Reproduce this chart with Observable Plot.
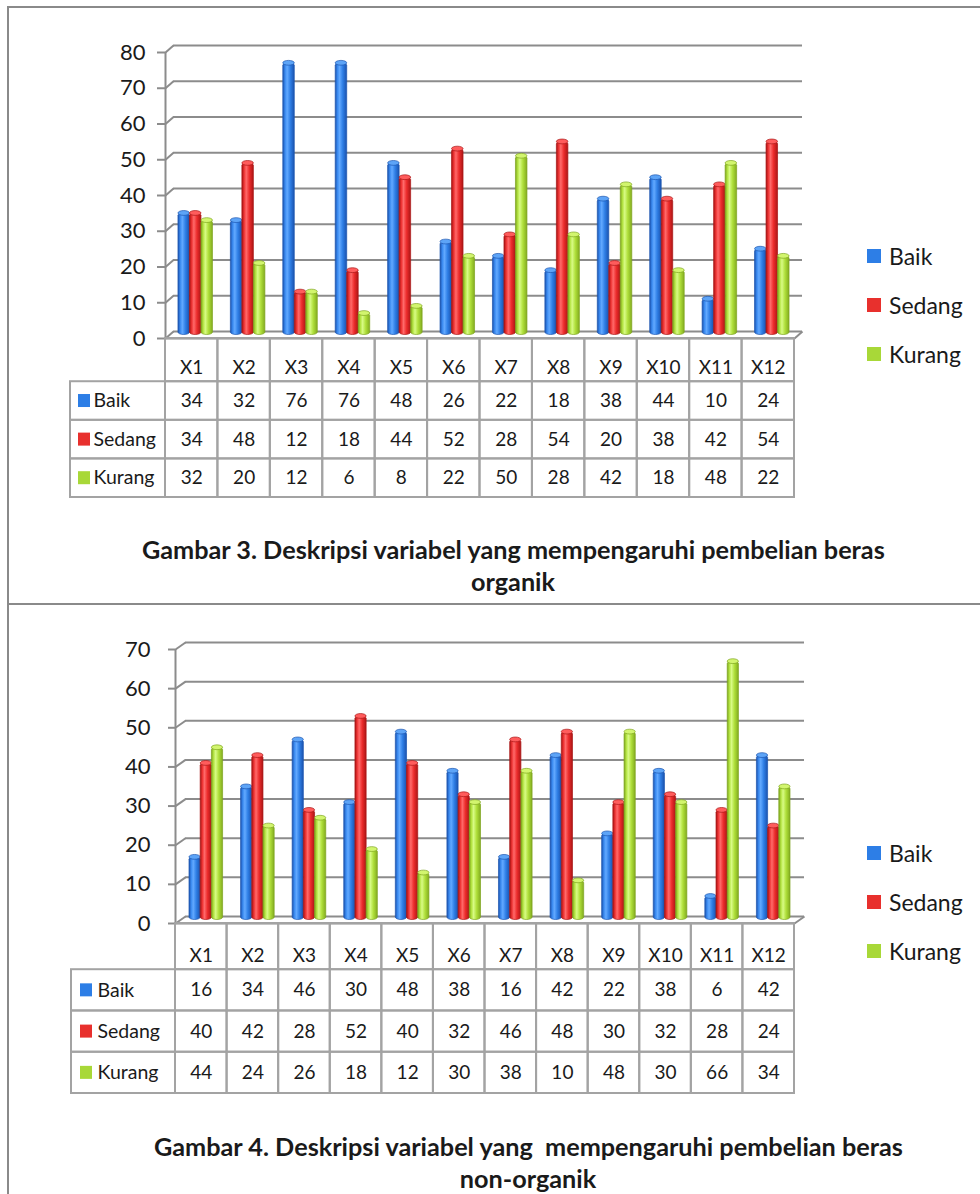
<!DOCTYPE html>
<html><head><meta charset="utf-8">
<script src="https://cdn.jsdelivr.net/npm/d3@7"></script>
<script src="https://cdn.jsdelivr.net/npm/@observablehq/plot@0.6"></script>
<style>
html,body{margin:0;padding:0;background:#fff;}
#page{position:relative;width:980px;height:1194px;overflow:hidden;background:#fff;font-family:Lato,"Open Sans",sans-serif;color:#1a1a1a;}
.hline{position:absolute;background:#8a8a8a;}
.lg{position:absolute;display:flex;align-items:center;font-size:23px;line-height:1;white-space:nowrap;}
.lg .sw{width:14px;height:14px;margin-right:8px;}
.cap{position:absolute;font-weight:bold;white-space:pre;line-height:1;}
.plotbox{position:absolute;left:0;}
</style></head>
<body>
<svg width="0" height="0" style="position:absolute">
<defs>
<linearGradient id="g0" x1="0" x2="1" y1="0" y2="0">
<stop offset="0" stop-color="#1b52ad"/><stop offset="0.2" stop-color="#3a8af0"/><stop offset="0.38" stop-color="#62a9ff"/><stop offset="0.65" stop-color="#2f7fe6"/><stop offset="1" stop-color="#1a52ae"/>
</linearGradient>
<linearGradient id="g1" x1="0" x2="1" y1="0" y2="0">
<stop offset="0" stop-color="#a51212"/><stop offset="0.2" stop-color="#ee3434"/><stop offset="0.38" stop-color="#ff6a6a"/><stop offset="0.65" stop-color="#ec2c2c"/><stop offset="1" stop-color="#ac1515"/>
</linearGradient>
<linearGradient id="g2" x1="0" x2="1" y1="0" y2="0">
<stop offset="0" stop-color="#7ca51a"/><stop offset="0.2" stop-color="#b4e443"/><stop offset="0.38" stop-color="#d8fb85"/><stop offset="0.65" stop-color="#afdf3a"/><stop offset="1" stop-color="#82ab1f"/>
</linearGradient>
</defs></svg>
<div id="page"></div>
<script>
// ---------- data ----------
const categories = ["X1","X2","X3","X4","X5","X6","X7","X8","X9","X10","X11","X12"];
const seriesNames = ["Baik","Sedang","Kurang"];

const organikBaik   = [34,32,76,76,48,26,22,18,38,44,10,24];
const organikSedang = [34,48,12,18,44,52,28,54,20,38,42,54];
const organikKurang = [32,20,12,6,8,22,50,28,42,18,48,22];

const nonOrganikBaik   = [16,34,46,30,48,38,16,42,22,38,6,42];
const nonOrganikSedang = [40,42,28,52,40,32,46,48,30,32,28,24];
const nonOrganikKurang = [44,24,26,18,12,30,38,10,48,30,66,34];

const ticksOrganik    = [0,10,20,30,40,50,60,70,80];
const ticksNonOrganik = [0,10,20,30,40,50,60,70];

const captionOrganik    = ["Gambar 3. Deskripsi variabel yang mempengaruhi pembelian beras", "organik"];
const captionNonOrganik = ["Gambar 4. Deskripsi variabel yang  mempengaruhi pembelian beras", "non-organik"];

// ---------- styling ----------
const seriesFill   = ["url(#g0)","url(#g1)","url(#g2)"];
const seriesStroke = ["#1d56b0","#a91616","#7ea51f"];
const seriesCap    = ["#5da4f7","#ff5c5c","#d2f56e"];
const seriesKey    = ["#2d7ee6","#e8302d","#a8d838"];
const gridColor = "#8c8c8c";
const tableColor = "#a3a3a3";
const FONT = "Lato, 'Open Sans', sans-serif";
const HEADER_RATIO = 1.12;   // header row height relative to a data row

const panels = [
  {top:0, axisTop:52, axisZero:338, left:70, colStart:165, colEnd:794, tableBottom:497,
   depthX:8, depthY:7, barW:11.5, tickLen:8, tickDx:-20, labelSq:8, labelTx:23, headerPos:0.68,
   values:[organikBaik,organikSedang,organikKurang], ticks:ticksOrganik,
   legendX:867, legendY:[256,305,354],
   caption:captionOrganik, capX:142, capW:745, capY:[551,583], cap2X:513},
  {top:600, axisTop:649, axisZero:923, left:71, colStart:175, colEnd:794, tableBottom:1093,
   depthX:10, depthY:7, barW:11.2, tickLen:7, tickDx:-25, labelSq:9, labelTx:26, headerPos:0.7,
   values:[nonOrganikBaik,nonOrganikSedang,nonOrganikKurang], ticks:ticksNonOrganik,
   legendX:867, legendY:[853,902,951],
   caption:captionNonOrganik, capX:154, capW:751, capY:[1148,1180], cap2X:528}
];

const page = document.getElementById("page");
const W = 830;

function hline(x, y, w, h) {
  const d = document.createElement("div");
  d.className = "hline";
  Object.assign(d.style, {left:x+"px", top:y+"px", width:w+"px", height:h+"px"});
  page.appendChild(d);
}
// outer frame
hline(7, 6, 973, 2);
hline(7, 6, 2, 1188);
hline(7, 603, 973, 2);

function place(el, top) {
  const box = document.createElement("div");
  box.className = "plotbox";
  box.style.top = top + "px";
  box.appendChild(el);
  page.appendChild(box);
}

const measureCtx = document.createElement("canvas").getContext("2d");
function fitSize(text, target) {
  measureCtx.font = "bold 100px Lato";
  return 100 * target / measureCtx.measureText(text).width;
}

panels.forEach(cfg => {
  const n = categories.length;
  const colW = (cfg.colEnd - cfg.colStart) / n;
  const labelW = (cfg.colStart - cfg.left) / colW;
  const maxT = cfg.ticks[cfg.ticks.length - 1];
  const pxU = (cfg.axisZero - cfg.axisTop) / maxT;
  const DX = cfg.depthX / colW;     // depth offset, x units
  const DY = cfg.depthY / pxU;      // depth offset, y units
  const bw = cfg.barW / colW;
  const capH = 2.4 / pxU;

  const rows = [];
  seriesNames.forEach((s, si) => categories.forEach((c, i) => rows.push({s, si, i, c, v: cfg.values[si][i]})));

  const barX1 = r => r.i + 0.5 + DX / 2 + (r.si - 1) * bw - bw / 2;

  const height = cfg.axisZero - cfg.top + 6;
  const barMarks = [];
  seriesNames.forEach((s, si) => {
    const data = rows.filter(r => r.si === si);
    barMarks.push(Plot.rect(data, {
      x1: barX1, x2: r => barX1(r) + bw,
      y1: () => DY / 2, y2: r => r.v + DY / 2,
      fill: seriesFill[si], stroke: seriesStroke[si], strokeWidth: 0.7,
      rx: cfg.barW / 2, ry: 2.4
    }));
    barMarks.push(Plot.rect(data, {
      x1: barX1, x2: r => barX1(r) + bw,
      y1: r => r.v + DY / 2 - capH, y2: r => r.v + DY / 2 + capH,
      fill: seriesCap[si], stroke: seriesStroke[si], strokeWidth: 0.7,
      rx: cfg.barW / 2, ry: 2.4
    }));
  });

  const chart = Plot.plot({
    width: W, height,
    marginLeft: cfg.left, marginRight: W - cfg.colEnd,
    marginTop: cfg.axisTop - cfg.top, marginBottom: cfg.top + height - cfg.axisZero,
    x: {type: "linear", domain: [-labelW, n], axis: null},
    y: {type: "linear", domain: [0, maxT], axis: null},
    style: {background: "transparent", overflow: "visible", fontFamily: FONT},
    marks: [
      // back wall gridlines
      Plot.ruleY(cfg.ticks, {x1: DX, x2: n + DX, y: d => d + DY, stroke: gridColor, strokeWidth: 2}),
      // side wall diagonals
      Plot.link(cfg.ticks, {x1: 0, y1: d => d, x2: DX, y2: d => d + DY, stroke: gridColor, strokeWidth: 2}),
      // floor front edge and right diagonal
      Plot.ruleY([0], {x1: 0, x2: n, stroke: gridColor, strokeWidth: 2}),
      Plot.link([0], {x1: n, y1: 0, x2: n + DX, y2: DY, stroke: gridColor, strokeWidth: 2}),
      // vertical axis
      Plot.ruleX([0], {y1: 0, y2: maxT, stroke: gridColor, strokeWidth: 2}),
      Plot.ruleY(cfg.ticks, {x1: -cfg.tickLen / colW, x2: 0, y: d => d, stroke: gridColor, strokeWidth: 2}),
      Plot.text(cfg.ticks, {x: 0, y: d => d, dx: cfg.tickDx, text: d => String(d), textAnchor: "end", fontSize: 22, fill: "#1a1a1a"}),
      ...barMarks
    ]
  });
  place(chart, cfg.top);

  // data table under the chart (y in row units: header [0, HEADER_RATIO], then one unit per series)
  const tTop = cfg.axisZero - 3;
  const tHeight = cfg.tableBottom - cfg.axisZero + 6;
  const hr = HEADER_RATIO;
  const rowPx = (cfg.tableBottom - cfg.axisZero) / (hr + seriesNames.length);
  const sqInset = (rowPx - 13) / 2;
  const tableMarks = [
    Plot.rect(categories, {x1: (d, i) => i, x2: (d, i) => i + 1, y1: 0, y2: hr, fill: "none", stroke: tableColor, strokeWidth: 2}),
    Plot.rect(rows, {x1: r => r.i, x2: r => r.i + 1, y1: r => hr + r.si, y2: r => hr + r.si + 1, fill: "none", stroke: tableColor, strokeWidth: 2}),
    Plot.rect(seriesNames, {x1: -labelW, x2: 0, y1: (d, i) => hr + i, y2: (d, i) => hr + i + 1, fill: "none", stroke: tableColor, strokeWidth: 2}),
    Plot.text(categories, {x: (d, i) => i + 0.5, y: () => hr * cfg.headerPos, text: d => d, fontSize: 19, fill: "#1a1a1a"}),
    Plot.text(rows, {x: r => r.i + 0.5, y: r => hr + r.si + 0.5, text: r => String(r.v), fontSize: 19, fill: "#1a1a1a"}),
    Plot.text(seriesNames, {x: -labelW, dx: cfg.labelTx, y: (d, i) => hr + i + 0.5, text: d => d, textAnchor: "start", fontSize: 19.5, fill: "#1a1a1a"})
  ];
  seriesNames.forEach((s, si) => {
    tableMarks.push(Plot.rect([s], {
      x1: -labelW + cfg.labelSq / colW, x2: -labelW + (cfg.labelSq + 12) / colW,
      y1: hr + si, y2: hr + si + 1,
      fill: seriesKey[si], insetTop: sqInset, insetBottom: sqInset
    }));
  });
  const table = Plot.plot({
    width: W, height: tHeight,
    marginLeft: cfg.left, marginRight: W - cfg.colEnd, marginTop: 3, marginBottom: 3,
    x: {type: "linear", domain: [-labelW, n], axis: null},
    y: {type: "linear", domain: [0, hr + seriesNames.length], reverse: true, axis: null},
    style: {background: "transparent", overflow: "visible", fontFamily: FONT},
    marks: tableMarks
  });
  place(table, tTop);

  // legend
  seriesNames.forEach((s, si) => {
    const d = document.createElement("div");
    d.className = "lg";
    d.style.left = cfg.legendX + "px";
    d.style.top = (cfg.legendY[si] - 12) + "px";
    d.style.height = "24px";
    d.innerHTML = `<span class="sw" style="background:${seriesKey[si]}"></span><span>${s}</span>`;
    page.appendChild(d);
  });

  // caption
  const fs = fitSize(cfg.caption[0], cfg.capW);
  const c1 = document.createElement("div");
  c1.className = "cap";
  c1.textContent = cfg.caption[0];
  Object.assign(c1.style, {left: cfg.capX + "px", top: (cfg.capY[0] - fs * 0.55) + "px", fontSize: fs + "px"});
  page.appendChild(c1);
  const c2 = document.createElement("div");
  c2.className = "cap";
  c2.textContent = cfg.caption[1];
  Object.assign(c2.style, {left: (cfg.cap2X - 300) + "px", width: "600px", textAlign: "center", top: (cfg.capY[1] - fs * 0.55) + "px", fontSize: fs + "px"});
  page.appendChild(c2);
});
</script>
</body></html>
